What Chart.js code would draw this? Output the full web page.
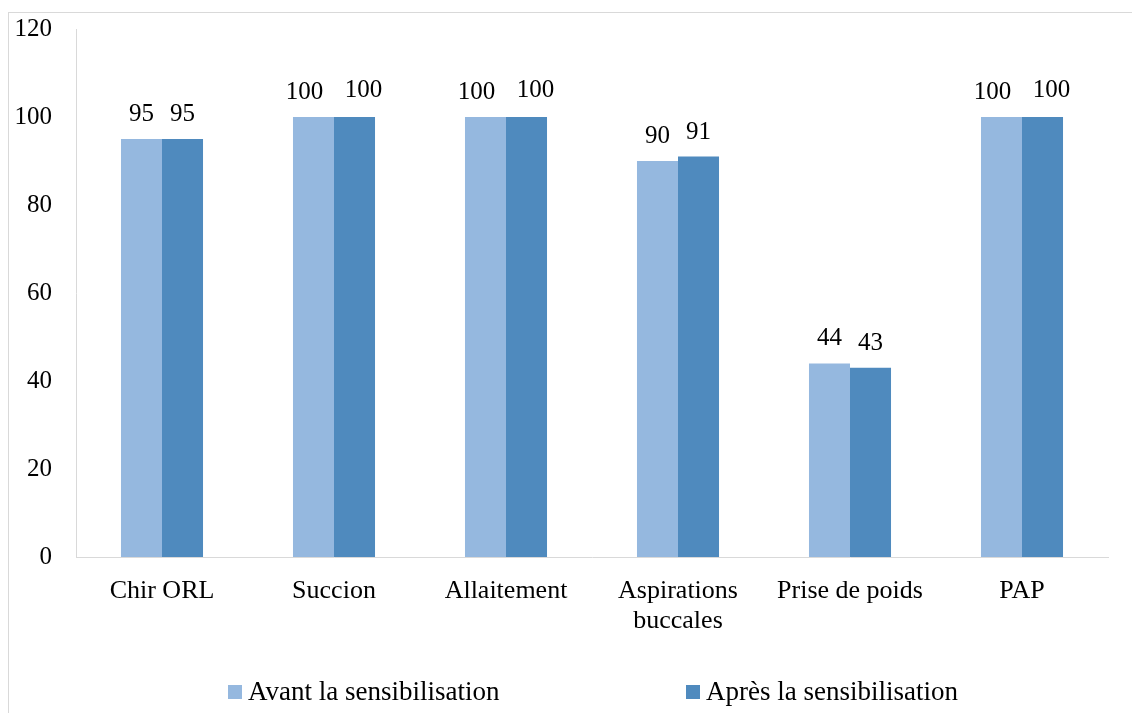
<!DOCTYPE html>
<html lang="fr">
<head>
  <meta charset="UTF-8">
  <title>Sensibilisation</title>
  <script src="https://cdn.jsdelivr.net/npm/chart.js"></script>
  <style>
    html, body { margin: 0; padding: 0; background: #fff; }
    .wrap { position: relative; width: 1132px; height: 713px; overflow: hidden; }
    .cadre { position: absolute; left: 8px; top: 12px; width: 1200px; height: 800px; border: 1px solid #d9d9d9; box-sizing: border-box; }
    canvas { position: absolute; left: 0; top: 0; }
  </style>
</head>
<body>
  <div class="wrap">
    <div class="cadre"></div>
    <canvas id="graphique" width="1132" height="713"></canvas>
  </div>

  <script>
    const categories = ['Chir ORL', 'Succion', 'Allaitement', ['Aspirations', 'buccales'], 'Prise de poids', 'PAP'];
    const avant = [95, 100, 100, 90, 44, 100];
    const apres = [95, 100, 100, 91, 43, 100];
    const seriesNames = ['Avant la sensibilisation', 'Après la sensibilisation'];
    const yTicks = [0, 20, 40, 60, 80, 100, 120];

    const police = '"Liberation Serif", "Times New Roman", serif';
    const couleurs = ['#95b8df', '#4f8abe'];

    // valeurs au-dessus des barres (écartées quand elles sont larges, comme Excel)
    const etiquettes = {
      id: 'etiquettes',
      afterDatasetsDraw(chart) {
        const ctx = chart.ctx;
        ctx.save();
        ctx.font = '25px ' + police;
        ctx.fillStyle = '#000';
        ctx.textAlign = 'center';
        ctx.textBaseline = 'bottom';
        const n = chart.data.datasets.length;
        chart.data.datasets.forEach((ds, i) => {
          chart.getDatasetMeta(i).data.forEach((bar, j) => {
            const txt = String(ds.data[j]);
            const w = ctx.measureText(txt).width;
            let dx = 0;
            if (w > 30) dx = (i === 0 ? -9 : 9);
            const dy = (w > 30 && i === n - 1) ? 2 : 0;
            ctx.fillText(txt, bar.x + dx, bar.y - 12 - dy);
          });
        });
        ctx.restore();
      }
    };

    // légende façon Excel, deux items espacés
    const legende = {
      id: 'legende',
      afterDraw(chart) {
        const ctx = chart.ctx;
        const area = chart.chartArea;
        const centre = (area.left + area.right) / 2;
        const departs = [centre - 364, centre + 94];
        const y = 692;
        ctx.save();
        ctx.font = '27px ' + police;
        ctx.textBaseline = 'middle';
        ctx.textAlign = 'left';
        chart.data.datasets.forEach((ds, i) => {
          ctx.fillStyle = ds.backgroundColor;
          ctx.fillRect(departs[i], y - 7, 14, 14);
          ctx.fillStyle = '#000';
          ctx.fillText(ds.label, departs[i] + 20, y + 1);
        });
        ctx.restore();
      }
    };

    const ctx = document.getElementById('graphique').getContext('2d');
    new Chart(ctx, {
      type: 'bar',
      data: {
        labels: categories,
        datasets: [
          { label: seriesNames[0], data: avant, backgroundColor: couleurs[0] },
          { label: seriesNames[1], data: apres, backgroundColor: couleurs[1] }
        ]
      },
      options: {
        responsive: false,
        animation: false,
        layout: {
          padding: { left: 8, right: 24, top: 29, bottom: 76 }
        },
        plugins: {
          legend: { display: false },
          tooltip: { enabled: false }
        },
        datasets: {
          bar: { categoryPercentage: 0.477, barPercentage: 1.0 }
        },
        scales: {
          y: {
            min: 0,
            max: 120,
            afterBuildTicks: (s) => { s.ticks = yTicks.map(v => ({ value: v })); },
            afterFit: (s) => { s.width = 68; s.paddingTop = 0; s.paddingBottom = 0; },
            grid: { display: false, drawTicks: false },
            border: { display: true, color: '#d9d9d9' },
            ticks: {
              color: '#000',
              padding: 24,
              font: { family: police, size: 25 }
            }
          },
          x: {
            afterFit: (s) => { s.height = 80; s.paddingLeft = 0; s.paddingRight = 0; },
            grid: { display: false, drawTicks: false },
            border: { display: true, color: '#d9d9d9' },
            ticks: {
              color: '#000',
              padding: 19,
              maxRotation: 0,
              font: { family: police, size: 26, lineHeight: 1.15 }
            }
          }
        }
      },
      plugins: [etiquettes, legende]
    });
  </script>
</body>
</html>
